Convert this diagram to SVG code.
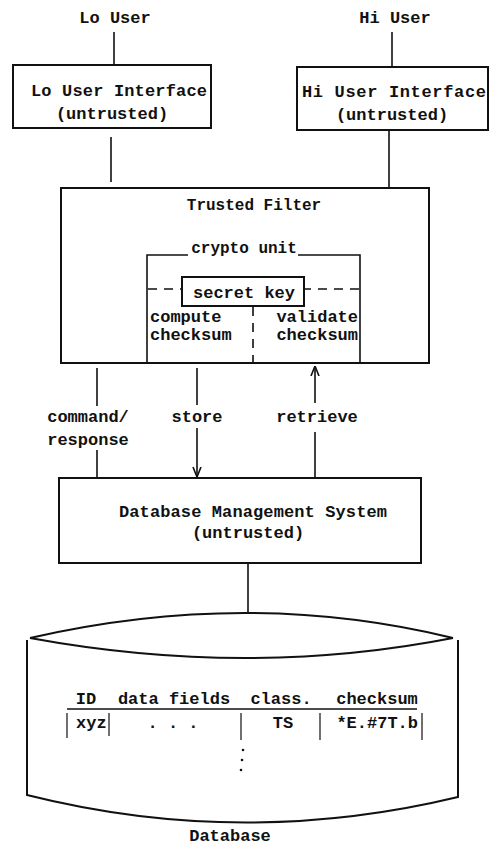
<svg xmlns="http://www.w3.org/2000/svg" width="490" height="847" viewBox="0 0 490 847">
  <style>
    text { font-family: "Liberation Mono", "DejaVu Sans Mono", monospace; font-weight: bold; font-size: 17px; fill: #111; }
    .c { text-anchor: middle; }
    .r { text-anchor: end; }
    .box { fill: none; stroke: #111; stroke-width: 2; }
    .ln { fill: none; stroke: #111; stroke-width: 1.6; }
    .dash { fill: none; stroke: #111; stroke-width: 1.6; stroke-dasharray: 9 7; }
    .thin { fill: none; stroke: #111; stroke-width: 1.2; }
  </style>
  <defs>
    <marker id="arrow" viewBox="0 0 10 10" refX="10" refY="5" markerWidth="10" markerHeight="10" markerUnits="userSpaceOnUse" orient="auto">
      <path d="M0,1 L10,5 L0,9" fill="none" stroke="#111" stroke-width="1.6"/>
    </marker>
  </defs>

  <g id="connectors">
    <line class="ln" x1="114" y1="32" x2="114" y2="64"/>
    <line class="ln" x1="392" y1="32" x2="392" y2="66"/>
    <line class="ln" x1="111" y1="137" x2="111" y2="182"/>
    <line class="ln" x1="389" y1="131" x2="389" y2="188"/>
    <line class="ln" x1="97" y1="368" x2="97" y2="406"/>
    <line class="ln" x1="97" y1="450" x2="97" y2="478"/>
    <line class="ln" x1="197" y1="368" x2="197" y2="405"/>
    <line class="ln" x1="197" y1="428" x2="197" y2="477" marker-end="url(#arrow)"/>
    <line class="ln" x1="315" y1="403" x2="315" y2="366" marker-end="url(#arrow)"/>
    <line class="ln" x1="315" y1="432" x2="315" y2="478"/>
    <line class="ln" x1="248" y1="563" x2="248" y2="612"/>
    <text class="c" x="88" y="422">command/</text>
    <text class="c" x="88" y="445">response</text>
    <text class="c" x="197" y="422">store</text>
    <text class="c" x="317" y="422">retrieve</text>
  </g>

  <g id="lo-user">
    <text class="c" x="115" y="23">Lo User</text>
  </g>
  <g id="hi-user">
    <text class="c" x="395" y="23">Hi User</text>
  </g>

  <g id="lo-interface">
    <rect class="box" x="13" y="65" width="198" height="63"/>
    <text class="c" x="119" y="96" textLength="176">Lo User Interface</text>
    <text class="c" x="112" y="119">(untrusted)</text>
  </g>

  <g id="hi-interface">
    <rect class="box" x="297" y="67" width="191" height="63"/>
    <text class="c" x="394" y="97" textLength="184">Hi User Interface</text>
    <text class="c" x="392" y="120">(untrusted)</text>
  </g>

  <g id="trusted-filter">
    <rect class="box" x="61" y="188" width="368" height="175"/>
    <text class="c" x="254" y="210" style="font-size:16px">Trusted Filter</text>
  </g>

  <g id="crypto-unit">
    <path class="ln" d="M147,363 V255 H188 M298,255 H360 V363"/>
    <text class="c" x="244" y="253" style="font-size:16px">crypto unit</text>
    <line class="dash" x1="148" y1="289" x2="182" y2="289"/>
    <line class="dash" x1="304" y1="289" x2="360" y2="289" stroke-dashoffset="2"/>
    <line class="dash" x1="253" y1="307" x2="253" y2="363" stroke-dasharray="6 10"/>
    <text x="150" y="322">compute</text>
    <text x="150" y="340">checksum</text>
    <text class="r" x="358" y="322">validate</text>
    <text class="r" x="358" y="340">checksum</text>
  </g>

  <g id="secret-key">
    <rect class="box" x="182" y="277" width="122" height="29"/>
    <text class="c" x="244" y="298">secret key</text>
  </g>

  <g id="dbms">
    <rect class="box" x="59" y="478" width="362" height="85"/>
    <text class="c" x="253" y="517" textLength="268">Database Management System</text>
    <text class="c" x="248" y="538">(untrusted)</text>
  </g>

  <g id="database">
    <path class="box" d="M30,638 Q248,588 453,638 M30,638 Q248,678 453,638"/>
    <path class="box" d="M27,640 V795 Q242,849 458,797 V640"/>
    <text class="c" x="86" y="704">ID</text>
    <text class="c" x="174" y="704">data fields</text>
    <text class="c" x="281" y="704">class.</text>
    <text class="c" x="377" y="704">checksum</text>
    <line class="ln" x1="67" y1="709" x2="417" y2="709"/>
    <path class="thin" d="M67,713 V738 M109,713 V736 M241,713 V740 M320,713 V740 M422,713 V740"/>
    <text x="76" y="728">xyz</text>
    <text class="c" x="173" y="728">. . .</text>
    <text class="c" x="283" y="728">TS</text>
    <text class="r" x="418" y="728">*E.#7T.b</text>
    <circle cx="243" cy="750" r="1.3" fill="#111"/>
    <circle cx="242" cy="760" r="1.3" fill="#111"/>
    <circle cx="241" cy="770" r="1.3" fill="#111"/>
    <text class="c" x="230" y="841">Database</text>
  </g>
</svg>
